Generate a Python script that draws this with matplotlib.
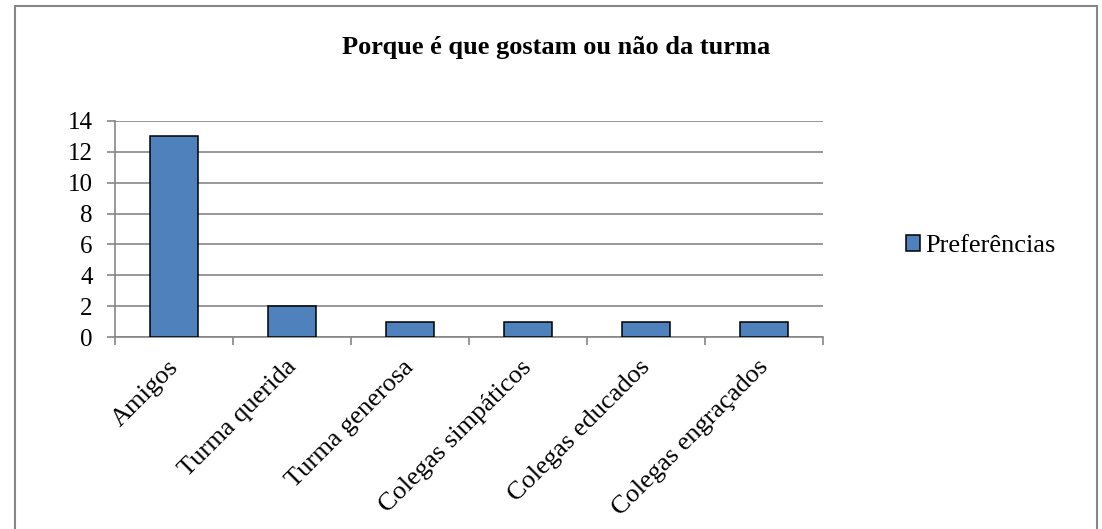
import matplotlib.pyplot as plt
from matplotlib.patches import Rectangle

plt.rcParams['font.family'] = ['Liberation Serif', 'DejaVu Serif']

categories = ['Amigos', 'Turma querida', 'Turma generosa', 'Colegas simpáticos',
              'Colegas educados', 'Colegas engraçados']
values = [13, 2, 1, 1, 1, 1]
series_name = 'Preferências'
title = 'Porque é que gostam ou não da turma'

fig = plt.figure(figsize=(11.02, 5.29), dpi=100)
ax = fig.add_axes([0.1044, 0.3624, 0.6424, 0.4094])

# outer chart border (Excel style)
fig.patches.append(Rectangle((15 / 1102, -0.05), (1097 - 15) / 1102, 1.05 - 6 / 529,
                             transform=fig.transFigure, fill=False,
                             edgecolor='#868686', linewidth=1.5))

x = list(range(len(categories)))
ax.bar(x, values, width=0.4, color='#4F81BD', edgecolor='black', linewidth=1.1,
       label=series_name, zorder=3)

ax.set_xlim(-0.5, len(categories) - 0.5)
ax.set_ylim(0, 14)
ax.set_yticks(range(0, 15, 2))
ax.yaxis.grid(True, color='#868686', linewidth=1.2, zorder=0)

for s in ['top', 'right']:
    ax.spines[s].set_visible(False)
for s in ['left', 'bottom']:
    ax.spines[s].set_color('#868686')
    ax.spines[s].set_linewidth(1.2)

ax.set_xticks([i + 0.5 for i in x[:-1]] + [-0.5, len(categories) - 0.5], minor=False)
ax.set_xticklabels([])
ax.tick_params(axis='x', length=6, width=1.2, color='#868686')
ax.tick_params(axis='y', length=6, width=1.2, color='#868686', labelsize=18, pad=10)

for i, c in enumerate(categories):
    ax.annotate(c, xy=(i, 0), xycoords=('data', 'axes fraction'),
                xytext=(0.5, -19), textcoords='offset points',
                rotation=45, ha='right', va='center', rotation_mode='anchor',
                fontsize=19)

fig.text(0.5045, 0.911, title, ha='center', va='center', fontsize=19, fontweight='bold')

fig.legend(loc='center left', bbox_to_anchor=(0.822, 0.535), frameon=False,
           fontsize=19, handlelength=0.55, handleheight=0.55, handletextpad=0.2,
           borderpad=0, borderaxespad=0)

fig.savefig('out.png', dpi=100)
